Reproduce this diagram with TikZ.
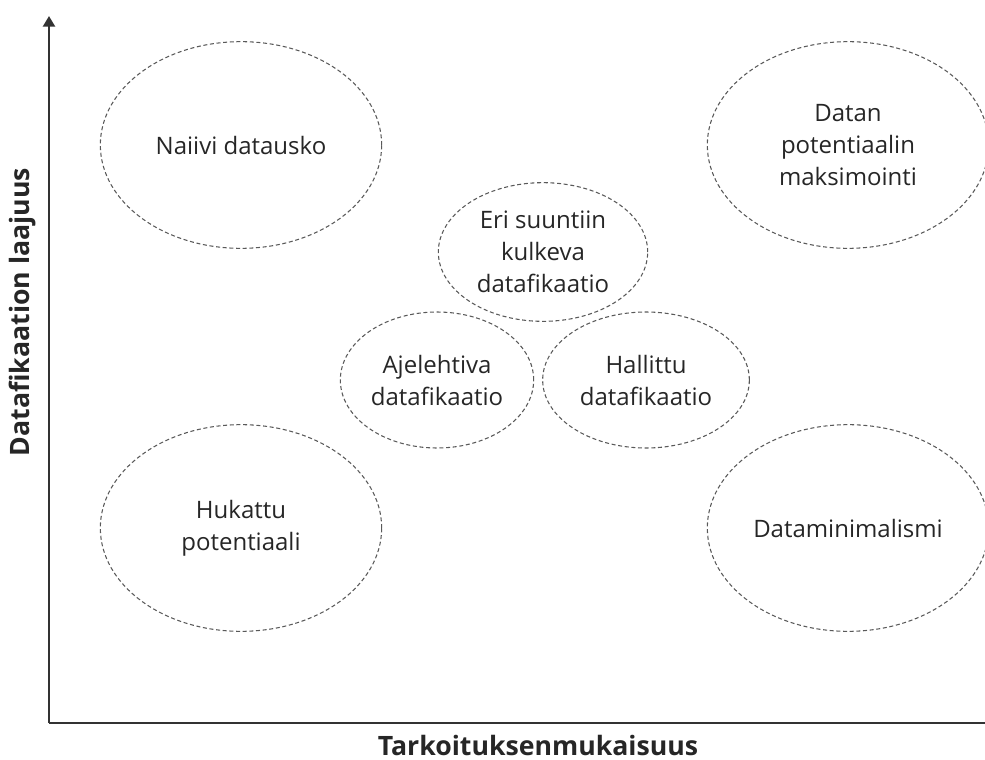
\documentclass[tikz,border=0pt]{standalone}
\usepackage{fontspec}
\setmainfont{Open Sans}
\usetikzlibrary{shapes.geometric,arrows.meta}

\begin{document}
\begin{tikzpicture}[x=0.75pt,y=-0.75pt,
  zone/.style={ellipse, draw=black!65, line width=0.8pt, dash pattern=on 3pt off 2pt,
    align=center, text=black!85, font=\fontsize{18}{24}\selectfont, inner sep=0pt},
  big/.style={zone, minimum width=211pt, minimum height=155pt},
  axislabel/.style={font=\fontsize{20}{24}\selectfont\bfseries, text=black!85}]
\useasboundingbox (0,0) rectangle (985,760);
\coordinate (o) at (49,723);
\coordinate (ytop) at (49,16);
\coordinate (xend) at (985,723);
\draw [line width=1.8pt, black!80, -{Triangle[length=8pt,width=9pt]}] (o) -- (ytop);
\draw [line width=1.8pt, black!80] (o) -- (xend);
\node [axislabel] (xlab) at (538,745) {Tarkoituksenmukaisuus};
\node [axislabel, rotate=90] (ylab) at (23,312) {Datafikaation laajuus};
\node [big] (naiivi) at (241,145) {Naiivi datausko};
\node [big] (maks) at (848,145) {Datan\\potentiaalin\\maksimointi};
\node [big] (hukattu) at (241,528) {Hukattu\\potentiaali};
\node [big] (minim) at (848,528) {Dataminimalismi};
\node [zone, minimum width=157pt, minimum height=104pt] (eri) at (543,252) {Eri suuntiin\\kulkeva\\datafikaatio};
\node [zone, minimum width=145pt, minimum height=102pt] (ajel) at (437,380) {Ajelehtiva\\datafikaatio};
\node [zone, minimum width=155pt, minimum height=102pt] (hall) at (646,380) {Hallittu\\datafikaatio};
\end{tikzpicture}
\end{document}
